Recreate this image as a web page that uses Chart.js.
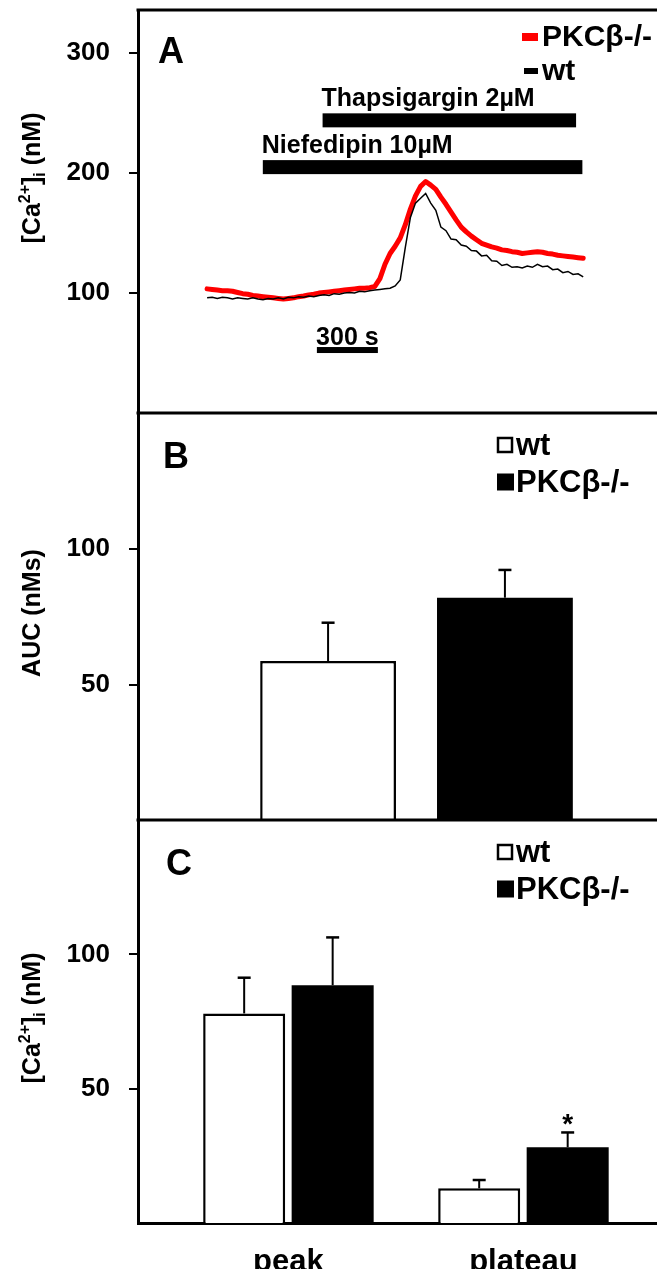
<!DOCTYPE html>
<html>
<head>
<meta charset="utf-8">
<title>Ca2+ PKCβ</title>
<script src="https://cdn.jsdelivr.net/npm/chart.js@4.4.0/dist/chart.umd.min.js"></script>
<style>
    html, body { margin: 0; padding: 0; background: #fff; overflow: hidden; }
    #fig { position: relative; width: 657px; height: 1269px; overflow: hidden; }
    #fig canvas { position: absolute; left: 0; }
</style>
</head>
<body>
<div id="fig">
    <canvas id="graficoA" width="695" height="415" style="top:0px"></canvas>
    <canvas id="graficoB" width="695" height="418" style="top:405px"></canvas>
    <canvas id="graficoC" width="695" height="457" style="top:812px"></canvas>
</div>
<script>
// ---- Dados do painel A: traçados de [Ca2+]i (tempo em s, valor em nM)
const tempoA = [
    0, 25, 50, 75, 100, 125, 150, 175, 200, 225,
    250, 275, 300, 325, 350, 375, 400, 425, 450, 475,
    500, 525, 550, 575, 600, 625, 650, 675, 700, 725,
    750, 775, 800, 825, 850, 875, 900, 925, 950, 975,
    1000, 1025, 1050, 1075, 1100, 1125, 1150, 1175, 1200, 1225,
    1250, 1275, 1300, 1325, 1350, 1375, 1400, 1425, 1450, 1475,
    1500, 1525, 1550, 1575, 1600, 1625, 1650, 1675, 1700, 1725,
    1750, 1775, 1800, 1825, 1850
];
const tracoPKC = [
    103.5, 103, 102.5, 102, 102, 101.5, 100.5, 99.5, 99, 98,
    97.5, 97, 96.5, 96, 95.5, 95, 95.5, 96, 97, 97.5,
    98.5, 99, 100, 100.5, 101, 101.5, 102, 102.5, 103, 103.5,
    104, 104, 104.5, 105.5, 112, 124, 133, 139, 146, 157,
    170, 181, 189, 193, 190, 186.5, 180, 174, 167.5, 161,
    155, 151, 147.5, 144.5, 141.5, 140, 138.5, 137.5, 136, 135.5,
    134.5, 134, 133, 133.5, 134, 134.5, 134, 133, 132.5, 131.5,
    131, 130.5, 130, 129.5, 129
];
const tracoWT = [
    96, 96.5, 95.5, 96.5, 96, 95, 96, 95.5, 95, 96,
    95, 94.5, 95.5, 95, 96, 95, 96.5, 96, 97, 96.5,
    97.5, 97, 98, 98.5, 98, 99.5, 99, 100, 100.5, 100,
    101.5, 101, 102, 102.5, 103, 103.5, 104, 106, 111, 138,
    163, 175, 179, 183, 175, 169, 155, 152, 145, 144.5,
    140, 139, 135.5, 135, 131, 131.5, 127, 126.5, 123, 124,
    121.5, 122, 121, 122.5, 121.5, 124, 122, 122.5, 119.5, 120,
    117, 118, 115.5, 116, 113.5
];
const ticksA = [100, 200, 300];

// Aplicação das drogas (s) e nível onde a barra aparece (nM)
const drogas = ['Thapsigargin 2µM', 'Niefedipin 10µM'];
const drogaInicio = [568, 274];
const drogaFim = [1815, 1846];
const drogaNivel = [244, 205];
const escalaInicio = 540;
const escalaDuracao = 300; // barra de escala "300 s"
const escalaNivel = 52.5;

// ---- Painel B: AUC
const grupos = ['wt', 'PKCβ-/-'];
const aucMedia = [58.8, 82.1];
const aucErro = [14.1, 10.2];

// ---- Painel C: pico e platô
const categoriasC = ['peak', 'plateau'];
const wtCa = [78, 12.9];
const wtCaErro = [13.3, 3.1];
const pkcCa = [88.5, 28.2];
const pkcCaErro = [17.8, 5.5];
const signifC = ['', '*'];
const ticksBC = [50, 100];
const limitesXC = [-0.64, 1.73];

const FONTE = '"Liberation Sans", Arial, Helvetica, sans-serif';
Chart.defaults.font.family = FONTE;
Chart.defaults.color = '#000';
Chart.defaults.animation = false;

const fonte = (px) => 'bold ' + px + 'px ' + FONTE;

// Zera o espaço extra que o Chart.js reserva para os rótulos
const semPadding = (s) => {
    s.paddingTop = 0;
    s.paddingBottom = 0;
    s.paddingLeft = 0;
    s.paddingRight = 0;
};

// Eixo y comum aos três painéis
const criarEixoY = (max, valores) => ({
    min: 0,
    max: max,
    afterFit: (s) => { s.width = 138; semPadding(s); },
    afterBuildTicks: (s) => { s.ticks = valores.map(v => ({ value: v })); },
    border: { display: true, color: '#000', width: 3 },
    grid: { display: true, drawOnChartArea: false, drawTicks: true, tickLength: 9, color: '#000', lineWidth: 2 },
    ticks: { font: { size: 26, weight: 'bold' }, padding: 19, color: '#000' }
});

// Texto vertical com sobrescrito / subscrito
const textoVertical = (ctx, partes, cx, cy, px) => {
    ctx.save();
    ctx.translate(cx, cy);
    ctx.rotate(-Math.PI / 2);
    ctx.textBaseline = 'alphabetic';
    ctx.textAlign = 'left';
    const pequena = Math.round(px * 0.62);
    let total = 0;
    partes.forEach(([t, nivel]) => {
        ctx.font = fonte(nivel ? pequena : px);
        total += ctx.measureText(t).width;
    });
    let x = -total / 2;
    const base = px * 0.36;
    partes.forEach(([t, nivel]) => {
        ctx.font = fonte(nivel ? pequena : px);
        let y = base;
        if (nivel > 0) y = base - px * 0.42;
        if (nivel < 0) y = base + px * 0.2;
        ctx.fillText(t, x, y);
        x += ctx.measureText(t).width;
    });
    ctx.restore();
};

// Moldura, letra do painel e título do eixo
const criarPluginPainel = (cfg) => ({
    id: 'painel',
    afterDraw(chart) {
        const { ctx, chartArea } = chart;
        ctx.save();
        ctx.fillStyle = '#000';
        ctx.fillRect(chartArea.left - 1.5, chartArea.top - 1.5, chart.width, 3);
        ctx.font = fonte(36);
        ctx.textAlign = 'left';
        ctx.textBaseline = 'alphabetic';
        ctx.fillText(cfg.letra, cfg.letraX, 63);
        ctx.restore();
        textoVertical(ctx, cfg.titulo, 31, cfg.tituloY, 25);
        if (cfg.extra) cfg.extra(chart);
    }
});

// Barras de erro (só para cima) e marcas de significância
const pluginErros = {
    id: 'barrasErro',
    afterDatasetsDraw(chart) {
        const { ctx } = chart;
        const y = chart.scales.y;
        ctx.save();
        ctx.strokeStyle = '#000';
        ctx.fillStyle = '#000';
        chart.data.datasets.forEach((ds, i) => {
            if (!ds.erros) return;
            chart.getDatasetMeta(i).data.forEach((barra, j) => {
                const bruto = ds.data[j];
                const v = typeof bruto === 'object' ? bruto.y : bruto;
                const topo = y.getPixelForValue(v + ds.erros[j]);
                ctx.lineWidth = 2;
                ctx.beginPath();
                ctx.moveTo(barra.x, barra.y);
                ctx.lineTo(barra.x, topo);
                ctx.stroke();
                ctx.lineWidth = 2.5;
                ctx.beginPath();
                ctx.moveTo(barra.x - 6.5, topo);
                ctx.lineTo(barra.x + 6.5, topo);
                ctx.stroke();
                if (ds.marcas && ds.marcas[j]) {
                    ctx.font = fonte(28);
                    ctx.textAlign = 'center';
                    ctx.textBaseline = 'alphabetic';
                    ctx.fillText(ds.marcas[j], barra.x, topo + 1);
                }
            });
        });
        ctx.restore();
    }
};

// Legenda de quadrados (painéis B e C)
const legendaQuadrados = (chart) => {
    const { ctx } = chart;
    ctx.save();
    ctx.font = fonte(31);
    ctx.textAlign = 'left';
    ctx.textBaseline = 'middle';
    const linhas = [40, 77];
    grupos.forEach((g, i) => {
        const yc = linhas[i];
        if (i === 0) {
            ctx.fillStyle = '#fff';
            ctx.fillRect(497, yc - 8, 16, 16);
            ctx.strokeStyle = '#000';
            ctx.lineWidth = 2.5;
            ctx.strokeRect(498, yc - 7, 14, 14);
        } else {
            ctx.fillStyle = '#000';
            ctx.fillRect(497, yc - 8.5, 17, 17);
        }
        ctx.fillStyle = '#000';
        ctx.fillText(g, 516, yc + 1);
    });
    ctx.restore();
};

// Barras das drogas, barra de escala e legenda do painel A
const extrasA = (chart) => {
    const { ctx } = chart;
    const x = chart.scales.x, y = chart.scales.y;
    ctx.save();
    ctx.fillStyle = '#000';
    ctx.font = fonte(25);
    ctx.textAlign = 'left';
    ctx.textBaseline = 'alphabetic';
    drogas.forEach((nome, i) => {
        const x0 = x.getPixelForValue(drogaInicio[i]);
        const x1 = x.getPixelForValue(drogaFim[i]);
        const yc = y.getPixelForValue(drogaNivel[i]);
        ctx.fillRect(x0, yc - 7, x1 - x0, 14);
        ctx.fillText(nome, x0 - 1, yc - 14);
    });
    const e0 = x.getPixelForValue(escalaInicio);
    const e1 = x.getPixelForValue(escalaInicio + escalaDuracao);
    const ey = y.getPixelForValue(escalaNivel);
    ctx.fillRect(e0, ey - 3, e1 - e0, 6);
    ctx.textAlign = 'center';
    ctx.fillText(escalaDuracao + ' s', (e0 + e1) / 2, ey - 5);

    // legenda
    ctx.font = fonte(30);
    ctx.textAlign = 'left';
    ctx.textBaseline = 'middle';
    ctx.fillStyle = '#f00';
    ctx.fillRect(522, 33, 16, 8);
    ctx.fillStyle = '#000';
    ctx.fillText(grupos[1], 542, 38);
    ctx.fillRect(524, 68, 14, 6);
    ctx.fillText(grupos[0], 542, 72);
    ctx.restore();
};

const rotuloY = [['[Ca', 0], ['2+', 1], [']', 0], ['i', -1], [' (nM)', 0]];

// ---- Gráfico A
new Chart(document.getElementById('graficoA'), {
    type: 'line',
    data: {
        datasets: [
            {
                label: grupos[0],
                data: tempoA.map((t, i) => ({ x: t, y: tracoWT[i] })),
                borderColor: '#000',
                borderWidth: 1.5,
                pointRadius: 0,
                order: 0
            },
            {
                label: grupos[1],
                data: tempoA.map((t, i) => ({ x: t, y: tracoPKC[i] })),
                borderColor: '#f00',
                borderWidth: 5,
                pointRadius: 0,
                borderJoinStyle: 'round',
                borderCapStyle: 'round',
                order: 1
            }
        ]
    },
    options: {
        responsive: false,
        layout: { padding: { top: 10, right: 0, bottom: 2, left: 0 } },
        plugins: { legend: { display: false }, tooltip: { enabled: false } },
        scales: {
            x: { type: 'linear', min: -340, max: 2400, display: false },
            y: criarEixoY(336, ticksA)
        }
    },
    plugins: [criarPluginPainel({ letra: 'A', letraX: 158, titulo: rotuloY, tituloY: 178, extra: extrasA })]
});

// ---- Gráfico B
new Chart(document.getElementById('graficoB'), {
    type: 'bar',
    data: {
        labels: [''],
        datasets: [
            {
                label: grupos[0],
                data: [aucMedia[0]],
                erros: [aucErro[0]],
                backgroundColor: '#fff',
                borderColor: '#000',
                borderWidth: 2.5,
                categoryPercentage: 0.635,
                barPercentage: 0.768
            },
            {
                label: grupos[1],
                data: [aucMedia[1]],
                erros: [aucErro[1]],
                backgroundColor: '#000',
                borderWidth: 0,
                categoryPercentage: 0.635,
                barPercentage: 0.768
            }
        ]
    },
    options: {
        responsive: false,
        layout: { padding: { top: 8, right: 0, bottom: 2, left: 0 } },
        plugins: { legend: { display: false }, tooltip: { enabled: false } },
        scales: {
            x: { display: false },
            y: criarEixoY(150, ticksBC)
        }
    },
    plugins: [pluginErros, criarPluginPainel({ letra: 'B', letraX: 163, titulo: [['AUC (nMs)', 0]], tituloY: 208, extra: legendaQuadrados })]
});

// ---- Gráfico C
new Chart(document.getElementById('graficoC'), {
    type: 'bar',
    data: {
        datasets: [
            {
                label: grupos[0],
                data: categoriasC.map((c, i) => ({ x: i, y: wtCa[i] })),
                erros: wtCaErro,
                backgroundColor: '#fff',
                borderColor: '#000',
                borderWidth: 2.5,
                categoryPercentage: 0.753,
                barPercentage: 0.927
            },
            {
                label: grupos[1],
                data: categoriasC.map((c, i) => ({ x: i, y: pkcCa[i] })),
                erros: pkcCaErro,
                marcas: signifC,
                backgroundColor: '#000',
                borderWidth: 0,
                categoryPercentage: 0.753,
                barPercentage: 0.927
            }
        ]
    },
    options: {
        responsive: false,
        layout: { padding: { top: 8, right: 0, bottom: 0, left: 0 } },
        plugins: { legend: { display: false }, tooltip: { enabled: false } },
        scales: {
            x: {
                type: 'linear',
                min: limitesXC[0],
                max: limitesXC[1],
                bounds: 'data',
                offset: false,
                afterFit: (s) => { s.height = 46; semPadding(s); },
                afterBuildTicks: (s) => {
                    s.ticks = categoriasC.map((c, i) => ({ value: i }));
                    s.min = limitesXC[0];
                    s.max = limitesXC[1];
                },
                border: { display: true, color: '#000', width: 3 },
                grid: { display: false, drawTicks: false, offset: false },
                ticks: {
                    font: { size: 31, weight: 'bold' },
                    padding: 21,
                    color: '#000',
                    maxRotation: 0,
                    callback: (v) => categoriasC[v] || ''
                }
            },
            y: criarEixoY(150, ticksBC)
        }
    },
    plugins: [pluginErros, criarPluginPainel({ letra: 'C', letraX: 166, titulo: rotuloY, tituloY: 206, extra: legendaQuadrados })]
});
</script>
</body>
</html>
